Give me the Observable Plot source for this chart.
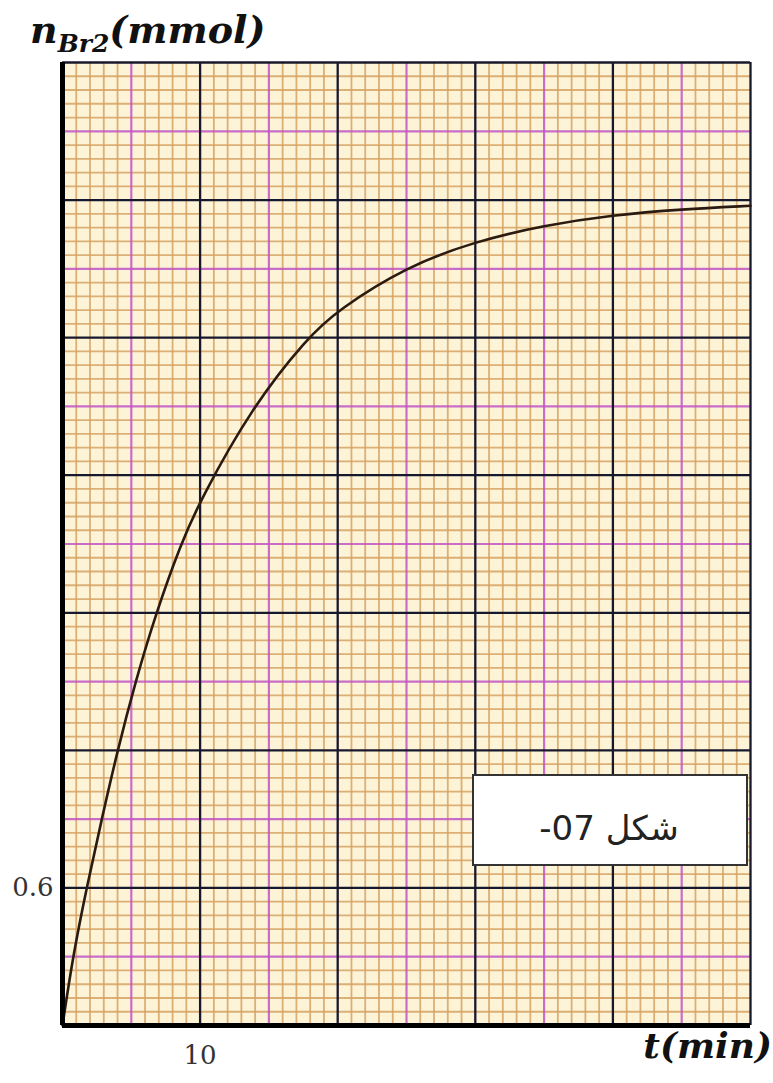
<!DOCTYPE html>
<html>
<head>
<meta charset="utf-8">
<script src="https://cdn.jsdelivr.net/npm/d3@7"></script>
<script src="https://cdn.jsdelivr.net/npm/@observablehq/plot@0.6"></script>
<style>
  html, body { margin: 0; padding: 0; background: #ffffff; }
  #chart { width: 773px; height: 1083px; position: relative; }
</style>
</head>
<body>
<div id="chart"></div>
<script>
// ---- data ----
const timeMin = [0, 0.75, 1.75, 2.85, 4.0, 5.3, 6.8, 8.6, 10, 13.8, 17.8, 20, 25, 30, 35, 40, 45, 50];
const nBr2    = [0, 0.30, 0.60, 0.90, 1.2, 1.5, 1.8, 2.1, 2.29, 2.7, 3.0, 3.12, 3.31, 3.42, 3.49, 3.535, 3.56, 3.575];
const xTickLabels = [10];
const yTickLabels = [0.6];
const xDomain = [0, 50];
const yDomain = [0, 4.2];
const figureLabel = "شكل 07-";

// graph-paper grid positions (1 min / 0.06 mmol fine, 5 min / 0.3 mmol mid, 10 min / 0.6 mmol major)
const fineX  = d3.range(0, 51).filter(i => i % 5 !== 0);
const midX   = d3.range(5, 50, 10);
const majorX = d3.range(10, 51, 10);
const fineY  = d3.range(0, 71).filter(i => i % 5 !== 0).map(i => +(i * 0.06).toFixed(4));
const midY   = d3.range(0, 7).map(i => +(0.3 + i * 0.6).toFixed(4));
const majorY = d3.range(1, 8).map(i => +(i * 0.6).toFixed(4));

const data = timeMin.map((t, i) => ({t, n: nBr2[i]}));

const paper = "#fdf4d8";
const fine = "#d6a264";
const mid = "#bf55c4";
const major = "#18182c";

const chart = Plot.plot({
  width: 773,
  height: 1083,
  marginLeft: 62,
  marginRight: 23,
  marginTop: 62,
  marginBottom: 58,
  style: {background: "#ffffff", overflow: "visible"},
  x: {domain: xDomain},
  y: {domain: yDomain},
  marks: [
    Plot.frame({fill: paper, stroke: null}),
    Plot.ruleX(fineX, {stroke: fine, strokeWidth: 1.8, strokeOpacity: 0.85}),
    Plot.ruleY(fineY, {stroke: fine, strokeWidth: 1.8, strokeOpacity: 0.85}),
    Plot.ruleX(midX, {stroke: mid, strokeWidth: 2.2, strokeOpacity: 0.85}),
    Plot.ruleY(midY, {stroke: mid, strokeWidth: 2.2, strokeOpacity: 0.85}),
    Plot.ruleX(majorX, {stroke: major, strokeWidth: 2.3}),
    Plot.ruleY(majorY, {stroke: major, strokeWidth: 2.3}),
    Plot.line(data, {x: "t", y: "n", curve: "basis", stroke: "#2a1a10", strokeWidth: 2.6}),
    Plot.ruleX([0], {stroke: "#000", strokeWidth: 5}),
    Plot.ruleY([0], {stroke: "#000", strokeWidth: 5, x1: 0, x2: 50}),
    Plot.axisX(xTickLabels, {tickSize: 0, tickPadding: 20, fontSize: 26, fontFamily: "DejaVu Serif", label: null, fill: "#333"}),
    Plot.axisY(yTickLabels, {tickSize: 0, tickPadding: 9, fontSize: 26, fontFamily: "DejaVu Serif", label: null, fill: "#333"})
  ]
});

const svg = d3.select(chart);

// y-axis title with subscript
const title = svg.append("text")
  .attr("x", 30).attr("y", 43)
  .attr("text-anchor", "start")
  .attr("font-family", "DejaVu Serif")
  .attr("font-weight", "bold")
  .attr("font-style", "italic")
  .attr("font-size", 38)
  .attr("fill", "#111");
title.append("tspan").text("n");
title.append("tspan").attr("font-size", 25).attr("dy", 9).text("Br2");
title.append("tspan").attr("dy", -9).text("(mmol)");

// x-axis title
svg.append("text")
  .attr("x", 772).attr("y", 1058)
  .attr("text-anchor", "end")
  .attr("font-family", "DejaVu Serif")
  .attr("font-weight", "bold")
  .attr("font-style", "italic")
  .attr("font-size", 36)
  .attr("fill", "#111")
  .text("t(min)");

// figure label box
svg.append("rect")
  .attr("x", 473).attr("y", 775).attr("width", 274).attr("height", 90)
  .attr("fill", "#ffffff").attr("stroke", "#333").attr("stroke-width", 2);
svg.append("text")
  .attr("x", 609).attr("y", 840)
  .attr("text-anchor", "middle")
  .attr("direction", "rtl")
  .attr("font-family", "DejaVu Sans")
  .attr("font-size", 34)
  .attr("fill", "#222")
  .text(figureLabel);

document.getElementById("chart").appendChild(chart);
</script>
</body>
</html>
